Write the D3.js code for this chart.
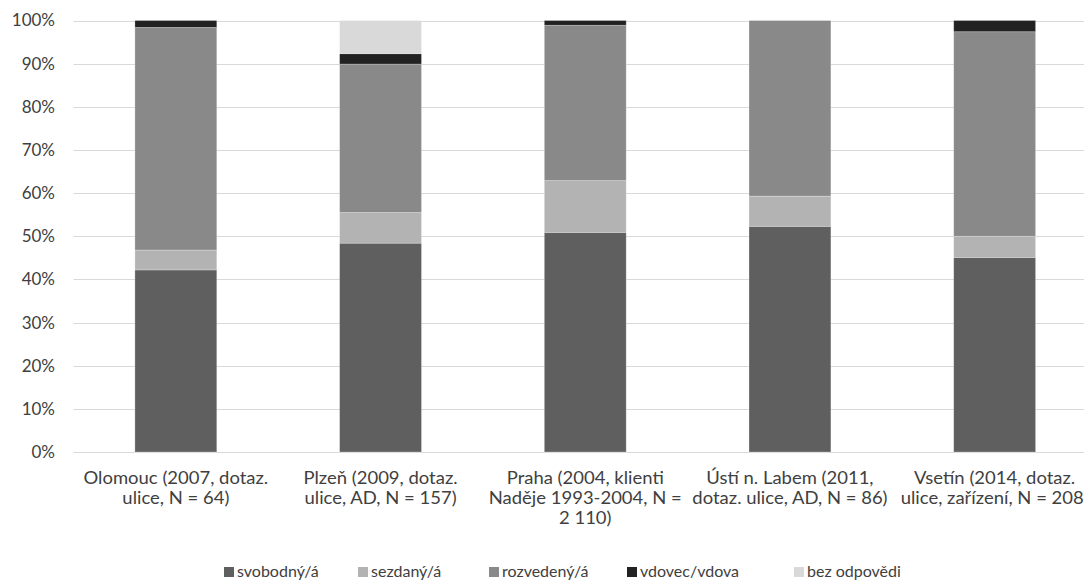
<!DOCTYPE html>
<html><head><meta charset="utf-8">
<script src="https://cdn.jsdelivr.net/npm/d3@7"></script>
<style>
html,body{margin:0;padding:0;background:#fff;overflow:hidden}
svg{display:block;font-family:Lato,sans-serif}
</style></head>
<body><svg id="c" width="1084" height="580"></svg>
<script>
const categories = ["Olomouc","Plzeň","Praha","Ústí n. Labem","Vsetín"];
const categoryLabels = [
  ["Olomouc (2007, dotaz.","ulice, N = 64)"],
  ["Plzeň (2009, dotaz.","ulice, AD, N = 157)"],
  ["Praha (2004, klienti","Naděje 1993-2004, N =","2 110)"],
  ["Ústí n. Labem (2011,","dotaz. ulice, AD, N = 86)"],
  ["Vsetín (2014, dotaz.","ulice, zařízení, N = 208)"]
];
const seriesNames = ["svobodný/á","sezdaný/á","rozvedený/á","vdovec/vdova","bez odpovědi"];
const seriesColors = ["#5f5f5f","#b3b3b3","#898989","#222222","#d9d9d9"];
const svobodny  = [42.2, 48.4, 50.9, 52.3, 45.1];
const sezdany   = [4.6, 7.1, 12.0, 7.0, 4.9];
const rozvedeny = [51.6, 34.4, 36.0, 40.7, 47.4];
const vdovec    = [1.6, 2.4, 1.1, 0.0, 2.6];
const bezOdp    = [0.0, 7.7, 0.0, 0.0, 0.0];
const yTicks = [0,10,20,30,40,50,60,70,80,90,100];

const FONT = "Lato,sans-serif";
const SX = 1.12;               // horizontal stretch of the category labels
const textColor = "#404040";

const series = [svobodny, sezdany, rozvedeny, vdovec, bezOdp];
const rows = categories.map((c,i)=>{
  const r = {cat:c};
  seriesNames.forEach((s,j)=>r[s]=series[j][i]);
  return r;
});
const stacked = d3.stack().keys(seriesNames)
  .offset(d3.stackOffsetExpand)(rows);

const svg = d3.select("#c");
const m = {left:73.5, right:1097, top:20.5, bottom:452};
const x = d3.scaleBand().domain(categories).range([m.left,m.right]).paddingInner(0.6).paddingOuter(0.3);
const y = d3.scaleLinear().domain([0,1]).range([m.bottom,m.top]);

// gridlines
svg.append("g").selectAll("line").data(yTicks).join("line")
  .attr("x1",m.left).attr("x2",m.right)
  .attr("y1",d=>Math.round(y(d/100))+0.5).attr("y2",d=>Math.round(y(d/100))+0.5)
  .attr("stroke","#d9d9d9").attr("stroke-width",1);

// y axis labels
const yAxis = d3.axisLeft(y).tickValues(yTicks.map(d=>d/100))
  .tickFormat(d3.format(".0%")).tickSize(0).tickPadding(18.5);
const ya = svg.append("g").attr("transform",`translate(${m.left},0)`).call(yAxis);
ya.select(".domain").remove();
ya.selectAll("text")
  .attr("fill",textColor).style("font-size","17px").style("font-family",FONT);

// bars
svg.append("g").selectAll("g").data(stacked).join("g")
  .attr("fill",(d,i)=>seriesColors[i])
  .selectAll("rect").data(d=>d).join("rect")
  .attr("x",d=>x(d.data.cat))
  .attr("width",x.bandwidth())
  .attr("y",d=>y(d[1]))
  .attr("height",d=>Math.max(0,y(d[0])-y(d[1])))
  .attr("stroke","#ffffff").attr("stroke-opacity",0.35).attr("stroke-width",0.75);

// x axis labels
const xAxis = d3.axisBottom(x).tickSize(0).tickFormat("");
const xa = svg.append("g").attr("transform",`translate(0,${m.bottom})`).call(xAxis);
xa.select(".domain").remove();
categories.forEach((c,i)=>{
  const t = svg.append("text").attr("text-anchor","middle")
    .attr("transform",`translate(${x(c)+x.bandwidth()/2},${m.bottom+32}) scale(${SX},1)`)
    .attr("fill",textColor).style("font-size","16.5px").style("font-family",FONT);
  categoryLabels[i].forEach((ln,k)=>{
    t.append("tspan").attr("x",0).attr("y",k*20).text(ln);
  });
});

// legend
const legendX = [224, 358, 489, 627, 794];
const lg = svg.append("g");
seriesNames.forEach((s,i)=>{
  lg.append("rect").attr("x",legendX[i]).attr("y",567).attr("width",10).attr("height",10).attr("fill",seriesColors[i]);
  lg.append("text").attr("x",legendX[i]+13).attr("y",577)
    .attr("fill",textColor).style("font-size","16px").style("font-family",FONT).text(s);
});
</script></body></html>
